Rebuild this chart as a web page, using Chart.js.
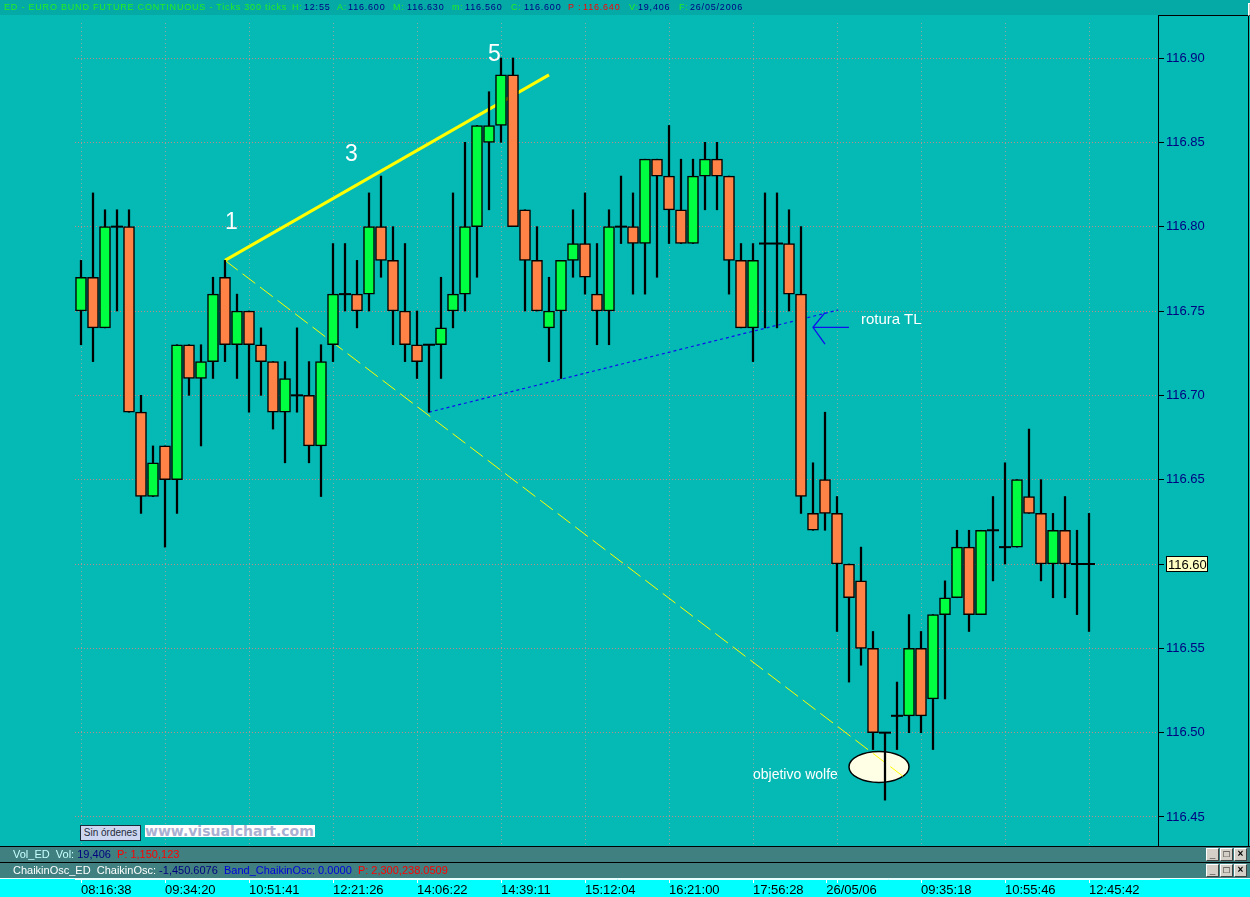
<!DOCTYPE html>
<html>
<head>
<meta charset="utf-8">
<title>ED - EURO BUND FUTURE CONTINUOUS</title>
<script src="https://cdn.jsdelivr.net/npm/chart.js@4/dist/chart.umd.min.js"></script>
<style>
    body { margin: 0; width: 1250px; height: 897px; overflow: hidden; position: relative; background: #05b9b4; font-family: 'Liberation Sans', Arial, sans-serif; }
    #topbar { position: absolute; left: 0; top: 0; width: 1250px; height: 15px; background: #05aaa6; font-size: 9px; letter-spacing: 0.8px; white-space: pre; z-index: 3; }
    #topbar span { position: absolute; top: 2px; line-height: 11px; }
    .g { color: #22ee22; }
    .n { color: #000080; }
    .r { color: #ff0000; }
    .b { color: #0000dd; }
    .lc { color: #c8ffff; }
    .w { color: #ffffff; }
    #chart { position: absolute; left: 0; top: 15px; z-index: 1; }
    .panel { position: absolute; left: 0; width: 1250px; height: 15px; background: #408080; border-top: 1px solid #000; font-size: 11px; line-height: 15px; white-space: pre; z-index: 3; }
    .panel .txt { position: absolute; left: 13px; top: 0; }
    #volbar { top: 846px; }
    #chaikbar { top: 862px; border-bottom: 1px solid #e8ffff; }
    .btns { position: absolute; right: 3px; top: 1px; height: 13px; }
    .btn { display: inline-block; width: 11px; height: 11px; margin-left: 1px; background: #d4d0c8; border: 1px solid; border-color: #fff #404040 #404040 #fff; font-size: 10px; line-height: 10px; text-align: center; color: #000; font-weight: bold; vertical-align: top; }
    #axisbox { position: absolute; left: 1158px; top: 15px; width: 89px; height: 830px; border: 1px solid #000; z-index: 2; pointer-events: none; }
    .note { position: absolute; color: #ffffff; white-space: pre; line-height: 1; z-index: 2; }
    #sinord { position: absolute; left: 80px; top: 825px; width: 59px; height: 14px; border: 1px solid #1a2a3a; background: #cdd6f0; color: #1d2b3a; font-size: 10px; line-height: 14px; text-align: center; white-space: nowrap; z-index: 2; }
    #vclogo { position: absolute; left: 145px; top: 825px; width: 170px; height: 12px; background: #fff; color: #aab0d2; font-family: 'DejaVu Sans', sans-serif; font-weight: bold; font-size: 14px; line-height: 12px; overflow: hidden; z-index: 2; }
</style>
</head>
<body>

<div id="topbar">
    <span class="g" style="left:4px">ED - EURO BUND FUTURE CONTINUOUS - Ticks 300 ticks</span>
    <span class="g" style="left:292px">H:</span><span class="n" style="left:304px">12:55</span>
    <span class="g" style="left:337px">A:</span><span class="n" style="left:348px">116.600</span>
    <span class="g" style="left:393px">M:</span><span class="n" style="left:407px">116.630</span>
    <span class="g" style="left:452px">m:</span><span class="n" style="left:465px">116.560</span>
    <span class="g" style="left:511px">C:</span><span class="n" style="left:524px">116.600</span>
    <span class="r" style="left:568px">P :</span><span class="r" style="left:583px">116.640</span>
    <span class="g" style="left:629px">V:</span><span class="n" style="left:638px">19,406</span>
    <span class="g" style="left:679px">F:</span><span class="n" style="left:690px">26/05/2006</span>
    <div class="btns"><span class="btn">_</span><span class="btn">□</span><span class="btn">×</span></div>
</div>

<canvas id="chart" width="1250" height="882"></canvas>
<div id="axisbox"></div>

<div class="note" style="left:225px; top:210px; font-size:23px">1</div>
<div class="note" style="left:345px; top:142px; font-size:23px">3</div>
<div class="note" style="left:488px; top:42px; font-size:23px">5</div>
<div class="note" style="left:861px; top:311px; font-size:15px">rotura TL</div>
<div class="note" style="left:753px; top:767px; font-size:14px">objetivo wolfe</div>

<div id="sinord">Sin órdenes</div>
<div id="vclogo">www.visualchart.com</div>

<div class="panel" id="volbar">
    <div class="txt"><span class="lc">Vol_ED  Vol: </span><span class="n">19,406  </span><span class="r">P: 1,150,123</span></div>
    <div class="btns"><span class="btn">_</span><span class="btn">□</span><span class="btn">×</span></div>
</div>
<div class="panel" id="chaikbar">
    <div class="txt"><span class="w">ChaikinOsc_ED  ChaikinOsc: </span><span class="n">-1,450.6076  </span><span class="b">Band_ChaikinOsc: 0.0000  </span><span class="r">P: 2,300,238.0509</span></div>
    <div class="btns"><span class="btn">_</span><span class="btn">□</span><span class="btn">×</span></div>
</div>

<script>
// velas de 300 ticks
const opens = [
    116.75, 116.77, 116.74, 116.80, 116.80, 116.69, 116.64, 116.67, 116.65, 116.73,
    116.71, 116.72, 116.77, 116.73, 116.75, 116.73, 116.72, 116.69, 116.70, 116.70,
    116.67, 116.73, 116.76, 116.76, 116.76, 116.80, 116.78, 116.75, 116.73, 116.73,
    116.73, 116.75, 116.76, 116.80, 116.85, 116.86, 116.89, 116.81, 116.78, 116.74,
    116.75, 116.78, 116.79, 116.76, 116.75, 116.80, 116.80, 116.79, 116.84, 116.83,
    116.81, 116.79, 116.83, 116.84, 116.83, 116.78, 116.74, 116.79, 116.79, 116.79,
    116.76, 116.63, 116.65, 116.63, 116.60, 116.59, 116.55, 116.50, 116.51, 116.51,
    116.55, 116.52, 116.57, 116.58, 116.61, 116.57, 116.62, 116.61, 116.61, 116.64,
    116.63, 116.60, 116.62, 116.60, 116.60
];
const highs = [
    116.78, 116.82, 116.81, 116.81, 116.81, 116.70, 116.67, 116.67, 116.73, 116.73,
    116.73, 116.77, 116.78, 116.76, 116.75, 116.74, 116.72, 116.72, 116.74, 116.72,
    116.73, 116.79, 116.79, 116.78, 116.82, 116.83, 116.80, 116.79, 116.75, 116.73,
    116.77, 116.82, 116.85, 116.86, 116.88, 116.90, 116.90, 116.81, 116.80, 116.77,
    116.78, 116.81, 116.82, 116.79, 116.81, 116.83, 116.82, 116.84, 116.84, 116.86,
    116.84, 116.84, 116.85, 116.85, 116.83, 116.79, 116.79, 116.82, 116.82, 116.81,
    116.80, 116.66, 116.69, 116.64, 116.60, 116.61, 116.56, 116.50, 116.53, 116.57,
    116.56, 116.57, 116.59, 116.62, 116.62, 116.62, 116.64, 116.66, 116.65, 116.68,
    116.65, 116.63, 116.64, 116.62, 116.63
];
const lows = [
    116.73, 116.72, 116.74, 116.75, 116.69, 116.63, 116.64, 116.61, 116.63, 116.70,
    116.67, 116.71, 116.72, 116.71, 116.69, 116.70, 116.68, 116.66, 116.69, 116.66,
    116.64, 116.72, 116.75, 116.74, 116.75, 116.77, 116.73, 116.72, 116.71, 116.69,
    116.71, 116.74, 116.75, 116.77, 116.81, 116.85, 116.80, 116.75, 116.75, 116.72,
    116.71, 116.77, 116.76, 116.73, 116.73, 116.79, 116.76, 116.76, 116.77, 116.79,
    116.79, 116.79, 116.81, 116.81, 116.76, 116.74, 116.72, 116.74, 116.74, 116.75,
    116.63, 116.62, 116.62, 116.56, 116.53, 116.54, 116.49, 116.46, 116.49, 116.50,
    116.50, 116.49, 116.52, 116.58, 116.56, 116.57, 116.59, 116.60, 116.61, 116.63,
    116.59, 116.58, 116.58, 116.57, 116.56
];
const closes = [
    116.77, 116.74, 116.80, 116.80, 116.69, 116.64, 116.66, 116.65, 116.73, 116.71,
    116.72, 116.76, 116.73, 116.75, 116.73, 116.72, 116.69, 116.71, 116.70, 116.67,
    116.72, 116.76, 116.76, 116.75, 116.80, 116.78, 116.75, 116.73, 116.72, 116.73,
    116.74, 116.76, 116.80, 116.86, 116.86, 116.89, 116.80, 116.78, 116.75, 116.75,
    116.78, 116.79, 116.77, 116.75, 116.80, 116.80, 116.79, 116.84, 116.83, 116.81,
    116.79, 116.83, 116.84, 116.83, 116.78, 116.74, 116.78, 116.79, 116.79, 116.76,
    116.64, 116.62, 116.63, 116.60, 116.58, 116.55, 116.50, 116.50, 116.51, 116.55,
    116.51, 116.57, 116.58, 116.61, 116.57, 116.62, 116.62, 116.61, 116.65, 116.63,
    116.60, 116.62, 116.60, 116.60, 116.60
];

const timeLabels = ['08:16:38', '09:34:20', '10:51:41', '12:21:26', '14:06:22', '14:39:11', '15:12:04',
    '16:21:00', '17:56:28', '26/05/06', '', '09:35:18', '10:55:46', '12:45:42'];
const timeTicks = [0, 7, 14, 21, 28, 35, 42, 49, 56, 62.1, 63, 70, 77, 84];
const dayBreak = 62.1;
const priceTicks = [116.45, 116.50, 116.55, 116.60, 116.65, 116.70, 116.75, 116.80, 116.85, 116.90];
const lastPrice = 116.60;

// lineas dibujadas sobre el grafico (indice de vela, precio)
const line1to5 = [{ x: 12, y: 116.78 }, { x: 39, y: 116.89 }];
const lineTarget = [{ x: 12, y: 116.78 }, { x: 68.9, y: 116.472 }];
const trendLine = [{ x: 29, y: 116.69 }, { x: 63.1, y: 116.7506 }];
const arrowShaft = [{ x: 64, y: 116.7403 }, { x: 61, y: 116.7403 }];
const arrowHead = [{ x: 62, y: 116.749 }, { x: 61, y: 116.7403 }, { x: 62, y: 116.7304 }];
const targetSpot = { x: 66.5, y: 116.4797 };


const bodies = [];
const bodyColors = [];
const wicks = [];
const dojis = [];
for (let i = 0; i < opens.length; i++) {
    wicks.push({ x: i, y: [lows[i], highs[i]] });
    if (opens[i] == closes[i]) {
        dojis.push({ x: i, y: opens[i] });
        bodies.push({ x: i, y: null });
        bodyColors.push('#ff8247');
    } else {
        bodies.push({ x: i, y: [Math.min(opens[i], closes[i]), Math.max(opens[i], closes[i])] });
        bodyColors.push(closes[i] > opens[i] ? '#00ff41' : '#ff8247');
    }
}

const canvasTop = 15;
const pxPerPrice = (817 - 58) / 0.45;
const axisFont = "'Liberation Sans', Arial, sans-serif";

const extras = {
    id: 'extras',
    beforeDraw(chart) {
        const { ctx, chartArea, width, height } = chart;
        ctx.save();
        ctx.fillStyle = '#05b9b4';
        ctx.fillRect(0, 0, width, chartArea.bottom);
        ctx.fillStyle = '#00ffff';
        ctx.fillRect(0, chartArea.bottom, width, height - chartArea.bottom);
        ctx.restore();
    },
    beforeDatasetsDraw(chart) {
        const { ctx, scales } = chart;
        ctx.save();
        ctx.beginPath();
        ctx.ellipse(scales.x.getPixelForValue(targetSpot.x), scales.y.getPixelForValue(targetSpot.y), 30, 15.5, 0, 0, Math.PI * 2);
        ctx.fillStyle = '#ffffe6';
        ctx.fill();
        ctx.lineWidth = 1.5;
        ctx.strokeStyle = '#000';
        ctx.stroke();
        ctx.restore();
    },
    afterDraw(chart) {
        const { ctx, scales } = chart;
        const y = Math.round(scales.y.getPixelForValue(lastPrice));
        const x = scales.y.left + 7;
        ctx.save();
        ctx.fillStyle = '#ffffc4';
        ctx.fillRect(x + 0.5, y - 7.5, 41, 15);
        ctx.strokeStyle = '#000';
        ctx.lineWidth = 1;
        ctx.strokeRect(x + 0.5, y - 7.5, 41, 15);
        ctx.fillStyle = '#000';
        ctx.font = '13px ' + axisFont;
        ctx.textBaseline = 'middle';
        ctx.fillText(lastPrice.toFixed(2), x + 2, y + 1);
        ctx.restore();
    }
};

let chart = new Chart(document.getElementById('chart').getContext('2d'), {
    type: 'bar',
    data: {
        datasets: [
            {
                type: 'line', data: dojis, showLine: false, order: 0,
                pointStyle: 'line', pointRadius: 6, pointBorderWidth: 2, pointBorderColor: '#000', pointHoverRadius: 6
            },
            {
                data: bodies, order: 1, grouped: false, barThickness: 11,
                backgroundColor: bodyColors, borderColor: '#000', borderWidth: 1.5, borderSkipped: false
            },
            {
                data: wicks, order: 2, grouped: false, barThickness: 1.6,
                backgroundColor: '#000', borderWidth: 0
            },
            {
                type: 'line', data: line1to5, order: 3, borderColor: '#ffff00', borderWidth: 3, pointRadius: 0
            },
            {
                type: 'line', data: lineTarget, order: 3, borderColor: '#ffff00', borderWidth: 1, borderDash: [16, 6], pointRadius: 0
            },
            {
                type: 'line', data: trendLine, order: 3, borderColor: '#1010ee', borderWidth: 1.2, borderDash: [3, 3], pointRadius: 0
            },
            {
                type: 'line', data: arrowShaft, order: 3, borderColor: '#1010ee', borderWidth: 1.3, pointRadius: 0
            },
            {
                type: 'line', data: arrowHead, order: 3, borderColor: '#1010ee', borderWidth: 1.3, pointRadius: 0
            }
        ]
    },
    options: {
        responsive: false,
        animation: false,
        devicePixelRatio: 1,
        layout: { padding: { left: 75, right: 0, top: 0, bottom: 0 } },
        plugins: { legend: { display: false }, tooltip: { enabled: false } },
        scales: {
            x: {
                type: 'linear',
                position: 'bottom',
                offset: false,
                min: -0.5,
                max: 89.8,
                afterBuildTicks: s => { s.ticks = timeTicks.map(v => ({ value: v })); },
                afterFit: s => { s.height = 18; s.paddingLeft = 0; s.paddingRight = 0; },
                ticks: {
                    autoSkip: false,
                    maxRotation: 0,
                    align: 'start',
                    padding: 1,
                    color: '#000',
                    font: { family: axisFont, size: 13, lineHeight: 1 },
                    callback: (v, i) => timeLabels[i]
                },
                grid: {
                    offset: false,
                    color: c => (c.tick && c.tick.value == dayBreak) ? 'rgba(0,0,0,0)' : '#8ea8a8',
                    tickColor: '#ffffff',
                    tickLength: 4,
                    lineWidth: 1
                },
                border: { display: true, color: '#e8ffff', dash: [1, 3] }
            },
            y: {
                type: 'linear',
                position: 'right',
                min: 116.41,
                max: 116.925,
                afterBuildTicks: s => { s.ticks = priceTicks.map(v => ({ value: v })); },
                afterFit: s => { s.width = 91; s.paddingTop = 0; s.paddingBottom = 0; },
                ticks: {
                    padding: 2,
                    color: '#000080',
                    font: { family: axisFont, size: 13 },
                    callback: v => v == lastPrice ? '' : v.toFixed(2)
                },
                grid: {
                    color: '#bd8a8a',
                    tickColor: '#000',
                    tickLength: 5,
                    lineWidth: 1
                },
                border: { display: false, dash: [1, 2] }
            }
        }
    },
    plugins: [extras]
});

// ajustar escalas para que las velas caigan en su sitio
let area = chart.chartArea;
chart.options.scales.y.max = 116.90 + ((58 - canvasTop) - area.top) / pxPerPrice;
chart.options.scales.y.min = 116.45 - (area.bottom - (817 - canvasTop)) / pxPerPrice;
chart.options.scales.x.min = (area.left - 81) / 12;
chart.options.scales.x.max = (area.right - 81) / 12;
chart.update('none');
</script>
</body>
</html>
